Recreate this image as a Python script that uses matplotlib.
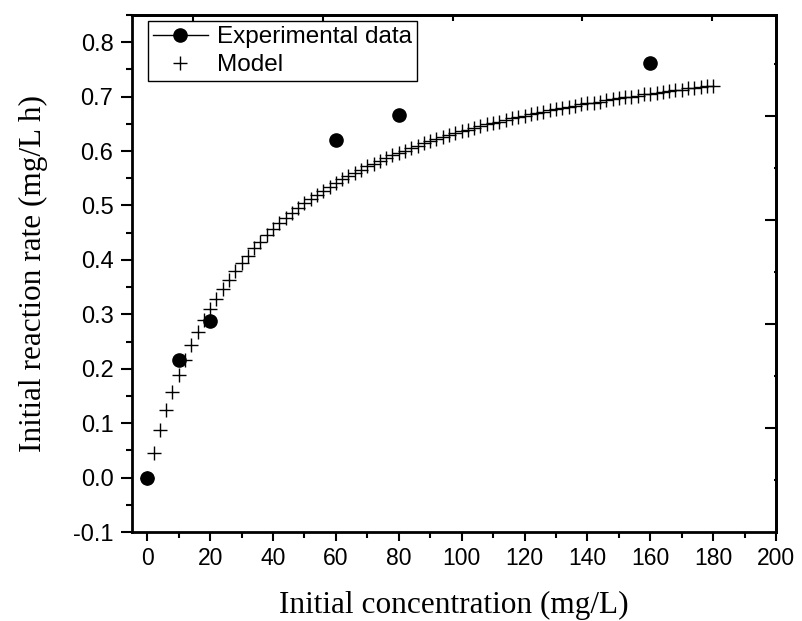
import matplotlib
matplotlib.use("Agg")
import matplotlib.pyplot as plt
from matplotlib.lines import Line2D
from matplotlib.ticker import MultipleLocator, FixedLocator, NullFormatter

# Experimental data
conc_exp = [0, 10, 20, 60, 80, 160]
rate_exp = [0.0, 0.217, 0.288, 0.621, 0.666, 0.762]

# Model curve
conc_model = [0, 2, 4, 6, 8, 10, 12, 14, 16, 18, 20, 22, 24, 26, 28, 30,
              32, 34, 36, 38, 40, 42, 44, 46, 48, 50, 52, 54, 56, 58, 60,
              62, 64, 66, 68, 70, 72, 74, 76, 78, 80, 82, 84, 86, 88, 90,
              92, 94, 96, 98, 100, 102, 104, 106, 108, 110, 112, 114, 116,
              118, 120, 122, 124, 126, 128, 130, 132, 134, 136, 138, 140,
              142, 144, 146, 148, 150, 152, 154, 156, 158, 160, 162, 164,
              166, 168, 170, 172, 174, 176, 178, 180]
rate_model = [0.0, 0.046, 0.087, 0.124, 0.158, 0.189, 0.217, 0.243, 0.267,
              0.289, 0.310, 0.329, 0.347, 0.364, 0.379, 0.394, 0.408, 0.421,
              0.433, 0.445, 0.456, 0.467, 0.477, 0.486, 0.495, 0.504, 0.512,
              0.520, 0.527, 0.534, 0.541, 0.548, 0.554, 0.560, 0.566, 0.572,
              0.577, 0.582, 0.587, 0.592, 0.597, 0.601, 0.606, 0.610, 0.614,
              0.618, 0.622, 0.625, 0.629, 0.633, 0.636, 0.639, 0.642, 0.646,
              0.649, 0.651, 0.654, 0.657, 0.660, 0.662, 0.665, 0.668, 0.670,
              0.672, 0.675, 0.677, 0.679, 0.681, 0.683, 0.686, 0.688, 0.689,
              0.691, 0.693, 0.695, 0.697, 0.699, 0.700, 0.702, 0.704, 0.705,
              0.707, 0.709, 0.710, 0.712, 0.713, 0.715, 0.716, 0.717, 0.719,
              0.720]

# mirrored axis ticks (Origin style, own spacing)
top_major = [14.7, 55.9, 97.1, 138.3, 179.5]
top_minor = [35.3, 76.5, 117.7, 158.9]
right_major = [0.091, 0.282, 0.474, 0.665]
right_minor = [-0.004, 0.187, 0.378, 0.569, 0.760]

sans = ['Liberation Sans', 'DejaVu Sans']
serif = ['Liberation Serif', 'DejaVu Serif']

fig = plt.figure(figsize=(8.02, 6.21), dpi=100)
ax = fig.add_axes([0.164, 0.1433, 0.8036, 0.8325])

ax.plot(conc_model, rate_model, linestyle='none', marker='+', color='black',
        markersize=9.5, markeredgewidth=1.0, zorder=2)
ax.plot(conc_exp, rate_exp, linestyle='none', marker='o', color='black',
        markersize=9.5, zorder=3)

ax.set_xlim(-5, 200)
ax.set_ylim(-0.1, 0.85)
ax.xaxis.set_major_locator(MultipleLocator(20))
ax.xaxis.set_minor_locator(MultipleLocator(10))
ax.yaxis.set_minor_locator(MultipleLocator(0.05))
ax.set_yticks([-0.1, 0.0, 0.1, 0.2, 0.3, 0.4, 0.5, 0.6, 0.7, 0.8])
ax.set_yticklabels(['-0.1', '0.0', '0.1', '0.2', '0.3', '0.4', '0.5', '0.6', '0.7', '0.8'])

for s in ax.spines.values():
    s.set_linewidth(2)

ax.tick_params(axis='y', which='major', direction='out', length=8, width=1.5, pad=5)
ax.tick_params(axis='y', which='minor', direction='out', length=4, width=1.5)
ax.tick_params(axis='x', which='major', direction='out', length=6.5, width=1.5, pad=4)
ax.tick_params(axis='x', which='minor', direction='out', length=4, width=1.5)

for lab in ax.get_yticklabels():
    lab.set_family(sans)
    lab.set_fontsize(17)
for lab in ax.get_xticklabels():
    lab.set_family(sans)
    lab.set_fontsize(16.5)

top = ax.secondary_xaxis('top')
top.xaxis.set_major_locator(FixedLocator(top_major))
top.xaxis.set_minor_locator(FixedLocator(top_minor))
top.xaxis.set_major_formatter(NullFormatter())
top.tick_params(which='major', direction='in', length=4, width=1.5)
top.tick_params(which='minor', direction='in', length=1.5, width=1.5)
top.spines['top'].set_linewidth(2)

right = ax.secondary_yaxis('right')
right.yaxis.set_major_locator(FixedLocator(right_major))
right.yaxis.set_minor_locator(FixedLocator(right_minor))
right.yaxis.set_major_formatter(NullFormatter())
right.tick_params(which='major', direction='in', length=8, width=1.5)
right.tick_params(which='minor', direction='in', length=1.5, width=1.5)
right.spines['right'].set_linewidth(2)

ax.set_xlabel('Initial concentration (mg/L)', family=serif, fontsize=22.5, va='center')
ax.set_ylabel('Initial reaction rate (mg/L h)', family=serif, fontsize=22.5, va='center')
ax.xaxis.set_label_coords(0.5, -0.143)
ax.yaxis.set_label_coords(-0.152, 0.5)

handles = [
    Line2D([], [], color='black', linewidth=1, marker='o', markersize=9.5),
    Line2D([], [], color='black', linestyle='none', marker='+', markersize=9.5,
           markeredgewidth=1.0),
]
leg = ax.legend(handles, ['Experimental data', 'Model'], loc='upper left',
                bbox_to_anchor=(0.025, 0.988), borderaxespad=0,
                prop={'family': sans, 'size': 17.5}, fancybox=False,
                frameon=True, edgecolor='black', framealpha=1,
                handlelength=2.3, handletextpad=0.35, borderpad=0.2,
                labelspacing=0.25)
leg.get_frame().set_linewidth(1)

fig.savefig('out.png', dpi=100)
